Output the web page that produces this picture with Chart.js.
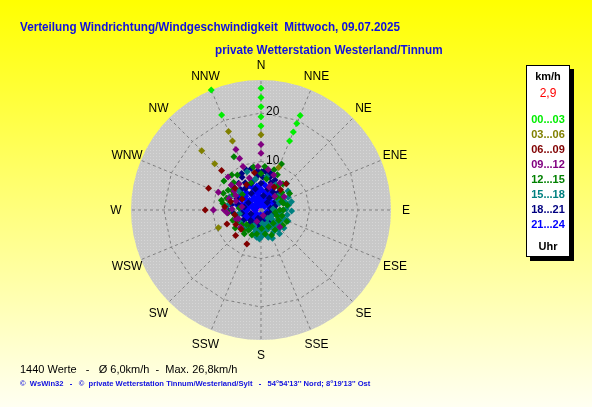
<!DOCTYPE html>
<html>
<head>
<meta charset="utf-8">
<title>Windrose Scatter</title>
<script src="https://cdn.jsdelivr.net/npm/chart.js@4.4.1/dist/chart.umd.min.js"></script>
<style>
  body { margin: 0; }
  #wrap {
    position: relative; width: 592px; height: 407px; overflow: hidden;
    background: linear-gradient(#ffff00, #fffff2);
    font-family: "Liberation Sans", Arial, sans-serif;
  }
  #chart { position: absolute; left: 0; top: 0; }
  .txt { position: absolute; white-space: pre; line-height: 16px; transform-origin: 0 50%; }
  .title { font: bold 13px "Liberation Sans", sans-serif; color: #1010e0; transform: scaleX(0.9); }
  #footer { left: 20px; top: 361px; font-size: 11px; color: #000; }
  #credits { left: 20px; top: 379px; font: bold 8px "Liberation Sans", sans-serif; color: #1010e0; transform: scaleX(0.95); }
  #legend {
    position: absolute; left: 526px; top: 65px; width: 44px; height: 192px;
    box-sizing: border-box; background: #fff; border: 1px solid #000;
    box-shadow: 4px 4px 0 #000;
  }
  #legend div {
    position: absolute; left: 0; width: 42px; text-align: center;
    font: bold 11px "Liberation Sans", sans-serif; line-height: 14px;
  }
</style>
</head>
<body>
<div id="wrap">
  <canvas id="chart" width="592" height="407"></canvas>
  <div class="txt title" style="left:20px; top:19px;">Verteilung Windrichtung/Windgeschwindigkeit  Mittwoch, 09.07.2025</div>
  <div class="txt title" style="left:215px; top:42px;">private Wetterstation Westerland/Tinnum</div>
  <div class="txt" id="footer">1440 Werte   -   Ø 6,0km/h  -  Max. 26,8km/h</div>
  <div class="txt" id="credits">©  WsWin32   -   ©  private Wetterstation Tinnum/Westerland/Sylt   -   54°54'13'' Nord; 8°19'13'' Ost</div>
  <div id="legend"></div>
</div>
<script>
// compass labels, clockwise from north
const directions = ["N", "NNE", "NE", "ENE", "E", "ESE", "SE", "SSE",
                    "S", "SSW", "SW", "WSW", "W", "WNW", "NW", "NNW"];
const ringTicks = [10, 20];
const maxSpeed = 26.8;

const hourGroups = ["00...03", "03...06", "06...09", "09...12", "12...15", "15...18", "18...21", "21...24"];
const groupColors = ["#00ee00", "#808000", "#800000", "#800080", "#008000", "#008080", "#000080", "#0000ff"];

// readings as [direction in degrees, speed in km/h]
const h00_03 = [[0,25.1],[0,23.2],[0,21.3],[0,19.2],[0,17.3],[337.5,26.8],[337.5,21.2],
  [22.5,21.1],[22.5,19.3],[22.5,17.4],[22.5,15.4]];
const h03_06 = [[0,15.5],[337.5,17.5],[337.5,15.4],[315,17.3],[315,13.5],[22.5,9.5],[247.5,9.5]];
const h06_09 = [[315,11.5],[292.5,11.7],[270,11.5],[247.5,7.6],[225,7.4],[202.5,7.6],[44,7.5],
  [44,5.8],[226,5.7],[300,4.5],[330,6],[260,5.5],[310,7],[285,6.5],[350,7.8],[30,5.5],[240,6],
  [275,7.5]];
const h09_12 = [[0,13.5],[0,11.7],[337.5,13.5],[337.5,11.5],[337.5,9.7],[315,9.6],[292.5,9.5],
  [270,9.8],[270,7.6],[250,5.5],[356,9],[20,7.7],[22,5.5],[272,6],[249,5],[132,5.2],[158,1.2],
  [300,6],[320,7],[280,4],[45,4],[200,2.5],[310,8],[290,7],[305,6.8],[340,7],[10,8.5],[35,6.8],
  [60,5.5],[230,5.5],[290,5.5],[265,7],[20,5]];
const h12_15 = [[333,12.3],[24,10.4],[308,9.7],[320,9.4],[18,8.7],[294,8.5],[289,7.5],[301,7.9],
  [284,8.4],[50,4.2],[68,4.6],[90,3.9],[73,4.8],[137,3.7],[156,3.8],[178,3.8],[212,4.9],[232,5],
  [209,3.9],[157,5.6],[221,5.5],[50,5.6],[90,4.6],[114,5.8],[326,8.7],[270,7.4],[304,7.2],[0,7.5],
  [10,6.5],[35,6],[250,6.2],[260,5.5],[340,6],[100,3],[200,5.5],[120,4.2],[275,4.5],[310,5],
  [300,6.5],[285,6.5],[265,6.8],[245,5.5],[235,6.5],[225,4.2],[215,6],[190,5],[170,5],[145,5],
  [125,5.5],[105,4.5],[80,5.5],[60,5],[40,7],[25,8],[5,9],[350,9],[315,8],[280,8],[60,6.8],[110,3.5]];
const h15_18 = [[44,7.6],[54,5.3],[71,5.2],[90,4.6],[116,4],[144,3.8],[170,4.5],[178,5.4],[189,5.7],
  [174,4.8],[197,5],[293,7],[277,7],[340,8.4],[60,4],[80,5.8],[100,5.5],[105,3.5],[125,5],[130,3],
  [135,4.6],[150,5.2],[155,3],[160,4.2],[165,5.8],[185,4.2],[120,2.5],[95,3],[65,6.2],[85,2.5],
  [140,2.2],[175,2.8],[30,6],[10,7],[350,6.5],[310,6],[260,4.5],[240,5],[220,4.8],[205,3.5],
  [70,4],[75,6.5],[88,5.2],[92,6.3],[110,5],[112,6],[118,4.6],[128,6],[138,5.4],[142,6.2],[148,4],
  [158,6.3],[168,3.5],[180,4.5],[183,6],[192,4.5],[200,4],[210,4.5],[55,6.8],[50,4.5],[100,4],[130,4]];
const h18_21 = [[340,8.8],[347,8.8],[1,7.9],[9,7.7],[320,7.2],[34,4.5],[204,3],[332,8.5],[6,8.3],
  [355,8.1],[14,7.9],[350,6.5],[20,6],[30,5.5],[45,5],[60,3.5],[75,3],[95,3.2],[115,2.5],[135,3],
  [150,2.8],[170,3.2],[185,3.8],[220,4],[235,5],[250,5.2],[265,5.8],[280,6.2],[295,5.5],[305,6.8],
  [315,6],[330,6.5],[345,4.5],[10,3],[40,2],[120,1.5],[250,2.2],[300,3],[200,1.8],[160,1.4],
  [280,3.5],[330,4],[0,5.5],[355,7.2],[3,6.8],[15,7],[25,6.8],[330,7.8],[325,5.5],[310,7.5],
  [290,7],[270,6.8],[260,4],[240,4.2],[225,3],[210,3.5],[190,2.8],[175,2.2],[140,2],[100,2.2],
  [80,2],[65,4.5],[50,4],[35,3],[18,4.5],[340,5.8],[300,4.5],[285,5]];
const h21_24 = [[0,2],[0,4],[5,5.5],[355,3],[20,3.4],[25,4.8],[15,1.5],[40,3.7],[50,2.6],[45,1],
  [80,2],[90,1.6],[100,2.8],[130,1.5],[145,2.3],[160,1.2],[180,2.8],[190,2],[200,1.5],[210,2.7],
  [230,2.6],[240,4.5],[225,1.2],[255,3.7],[258,4.9],[270,2.8],[275,4.4],[285,1.8],[292,3.4],
  [297,4.5],[310,3.1],[320,4.7],[328,3.8],[335,5.5],[340,4.7],[345,2.6],[300,1],[330,2],[265,1.2],
  [315,5.8],[305,5.2],[350,5],[0,1],[10,2.5],[30,2],[60,1.8],[70,3],[110,1.2],[120,2],[150,1.8],
  [170,1.8],[185,1],[215,2],[235,1.8],[245,3],[250,2.2],[262,3.3],[268,4],[280,3],[282,5],[290,2.5],
  [295,5.3],[300,2],[305,3.8],[312,4.2],[318,2.8],[322,5.5],[325,1.5],[332,3],[338,4],[342,6],
  [348,3.5],[350,1.5],[352,4.2],[358,4.5],[8,3.8],[12,5],[30,4],[35,2.8],[60,3],[285,4],[275,3.5],
  [240,3.5],[220,3.2],[195,3],[165,2],[140,3]];
const latest = [[288,4.5],[270,2.6],[302,0.7],[257,1.6]];

const groupData = [h00_03, h03_06, h06_09, h09_12, h12_15, h15_18, h18_21, h21_24];

function toXY(list) {
  return list.map(function (d) {
    const a = d[0] * Math.PI / 180;
    return { x: d[1] * Math.sin(a), y: d[1] * Math.cos(a) };
  });
}

// legend box
const legend = document.getElementById("legend");
function addLegendLine(text, color, centerY) {
  const el = document.createElement("div");
  el.textContent = text;
  el.style.color = color;
  el.style.top = (centerY - 7) + "px";
  legend.appendChild(el);
  return el;
}
addLegendLine("km/h", "#000", 10);
const calmLine = addLegendLine("2,9", "#ff0000", 27);
calmLine.style.fontWeight = "normal";
calmLine.style.fontSize = "12px";
hourGroups.forEach((g, i) => addLegendLine(g, groupColors[i], 53 + i * 15));
addLegendLine("Uhr", "#000", 180);

// dotted grey texture like the original
function greyPattern(ctx) {
  const p = document.createElement("canvas");
  p.width = 3; p.height = 3;
  const pc = p.getContext("2d");
  pc.fillStyle = "#c8c8c8";
  pc.fillRect(0, 0, 3, 3);
  pc.fillStyle = "#d6d6d6";
  pc.fillRect(0, 0, 1, 1);
  return ctx.createPattern(p, "repeat");
}

const polarGrid = {
  id: "polarGrid",
  beforeDatasetsDraw(chart) {
    const ctx = chart.ctx;
    const xs = chart.scales.x, ys = chart.scales.y;
    const cx = xs.getPixelForValue(0), cy = ys.getPixelForValue(0);
    const R = xs.getPixelForValue(maxSpeed) - cx;
    const unit = R / maxSpeed;
    ctx.save();
    ctx.beginPath();
    ctx.arc(cx, cy, R, 0, Math.PI * 2);
    ctx.fillStyle = greyPattern(ctx);
    ctx.fill();

    ctx.strokeStyle = "#808080";
    ctx.lineWidth = 1;
    ctx.setLineDash([3, 3]);
    directions.forEach((d, i) => {
      const a = i * 22.5 * Math.PI / 180;
      ctx.beginPath();
      ctx.moveTo(cx, cy);
      ctx.lineTo(cx + R * Math.sin(a), cy - R * Math.cos(a));
      ctx.stroke();
    });
    ringTicks.forEach(t => {
      ctx.beginPath();
      for (let i = 0; i <= 16; i++) {
        const a = i * 22.5 * Math.PI / 180;
        const px = cx + t * unit * Math.sin(a), py = cy - t * unit * Math.cos(a);
        if (i === 0) ctx.moveTo(px, py); else ctx.lineTo(px, py);
      }
      ctx.stroke();
    });
    ctx.setLineDash([]);

    ctx.fillStyle = "#000";
    ctx.font = '12px "Liberation Sans", Arial, sans-serif';
    ctx.textBaseline = "middle";
    ctx.textAlign = "left";
    ringTicks.forEach(t => ctx.fillText(String(t), cx + 5, cy - t * unit - 1));

    ctx.textAlign = "center";
    directions.forEach((d, i) => {
      const a = i * 22.5 * Math.PI / 180;
      const r = R + 15;
      ctx.fillText(d, cx + r * Math.sin(a), cy - r * Math.cos(a) + 1);
    });
    ctx.restore();
  }
};

const datasets = groupData.map((list, i) => ({
  label: hourGroups[i],
  data: toXY(list),
  pointStyle: "rectRot",
  pointRadius: 3.5,
  pointBorderWidth: 0,
  backgroundColor: groupColors[i],
  borderColor: groupColors[i]
}));
datasets.push({
  label: "aktuell",
  data: toXY(latest),
  pointStyle: "rectRot",
  pointRadius: 2.5,
  pointBorderWidth: 0,
  backgroundColor: "#ff00ff",
  borderColor: "#ff00ff"
});

new Chart(document.getElementById("chart"), {
  type: "scatter",
  data: { datasets: datasets },
  options: {
    responsive: false,
    animation: false,
    layout: { padding: { left: 131, right: 201, top: 80, bottom: 67 } },
    scales: {
      x: { type: "linear", min: -maxSpeed, max: maxSpeed, display: false },
      y: { type: "linear", min: -maxSpeed, max: maxSpeed, display: false }
    },
    plugins: {
      legend: { display: false },
      tooltip: { enabled: false }
    }
  },
  plugins: [polarGrid]
});
</script>
</body>
</html>
